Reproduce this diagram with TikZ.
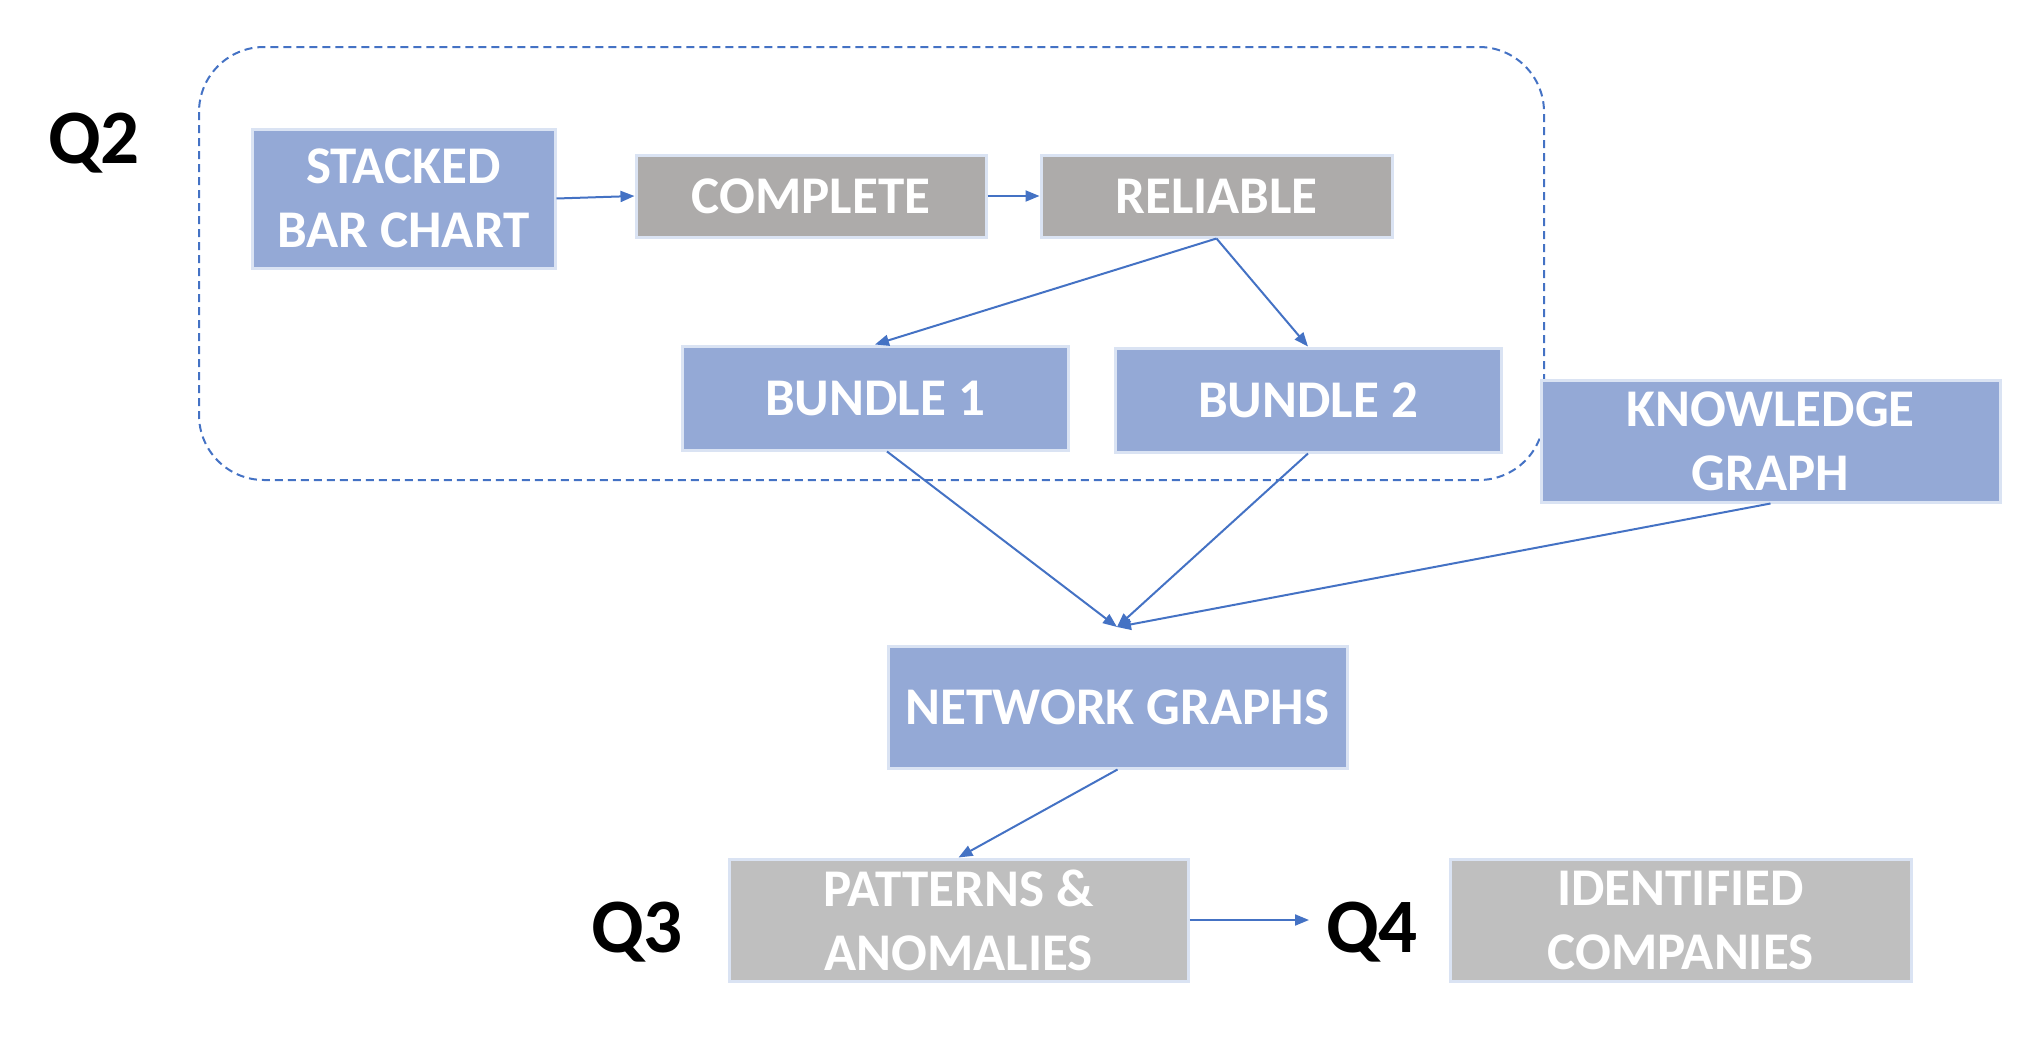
\documentclass[tikz,border=0pt]{standalone}
\usepackage{fontspec}
\setmainfont{Carlito}
\usetikzlibrary{arrows.meta}
\definecolor{boxblue}{RGB}{148,169,214}
\definecolor{boxgray}{RGB}{173,171,170}
\definecolor{boxlight}{RGB}{191,191,191}
\definecolor{edgeblue}{RGB}{218,227,243}
\definecolor{linkblue}{RGB}{68,114,196}
\tikzset{
  basebox/.style={rectangle, draw=edgeblue, line width=3pt, text=white, align=center,
    font=\fontsize{53}{64}\selectfont\bfseries, inner sep=0pt},
  bluebox/.style={basebox, fill=boxblue},
  graybox/.style={basebox, fill=boxgray},
  lightbox/.style={basebox, fill=boxlight},
  link/.style={draw=linkblue, line width=2pt, -{Triangle[length=14pt,width=11pt]}},
  qlabel/.style={font=\fontsize{77}{82}\selectfont\bfseries, text=black, inner sep=0pt},
  groupbox/.style={draw=linkblue, line width=2pt, dash pattern=on 8pt off 5pt, rounded corners=65pt}
}
\begin{document}
\begin{tikzpicture}[x=1pt,y=-1pt]
\useasboundingbox (0,0) rectangle (2038,1042);
\draw[groupbox] (199,47) rectangle (1544,480);

\node[qlabel] (q2) at (94,143) {Q2};
\node[qlabel] (q3) at (637,932) {Q3};
\node[qlabel] (q4) at (1372,932) {Q4};

\node[bluebox, minimum width=303, minimum height=139] (sbc) at (403.5,198.5) {STACKED\\BAR CHART};
\node[graybox, minimum width=350, minimum height=82] (complete) at (811,196) {COMPLETE};
\node[graybox, minimum width=351, minimum height=82] (reliable) at (1216.5,196) {RELIABLE};
\node[bluebox, minimum width=386, minimum height=104] (b1) at (875,398) {BUNDLE 1};
\node[bluebox, minimum width=386, minimum height=104] (b2) at (1308,400) {BUNDLE 2};
\node[bluebox, minimum width=459, minimum height=122] (kg) at (1770.5,441) {KNOWLEDGE\\GRAPH};
\node[bluebox, minimum width=459, minimum height=122] (net) at (1117.5,707) {NETWORK GRAPHS};
\node[lightbox, minimum width=459, minimum height=122] (pat) at (958.5,920) {PATTERNS \&\\ANOMALIES};
\node[lightbox, minimum width=461, minimum height=122] (ident) at (1680.5,920) {IDENTIFIED\\COMPANIES};

\coordinate (conv) at (1117,627);
\coordinate (q4in) at (1309,920);

\draw[link] (sbc.east) -- (complete.west);
\draw[link] (complete.east) -- (reliable.west);
\draw[link] (reliable.south) -- (b1.north);
\draw[link] (reliable.south) -- (b2.north);
\draw[link] ([xshift=12]b1.south) -- (conv);
\draw[link] (b2.south) -- (conv);
\draw[link] (kg.south) -- (conv);
\draw[link] (net.south) -- (pat.north);
\draw[link] (pat.east) -- (q4in);
\end{tikzpicture}
\end{document}
